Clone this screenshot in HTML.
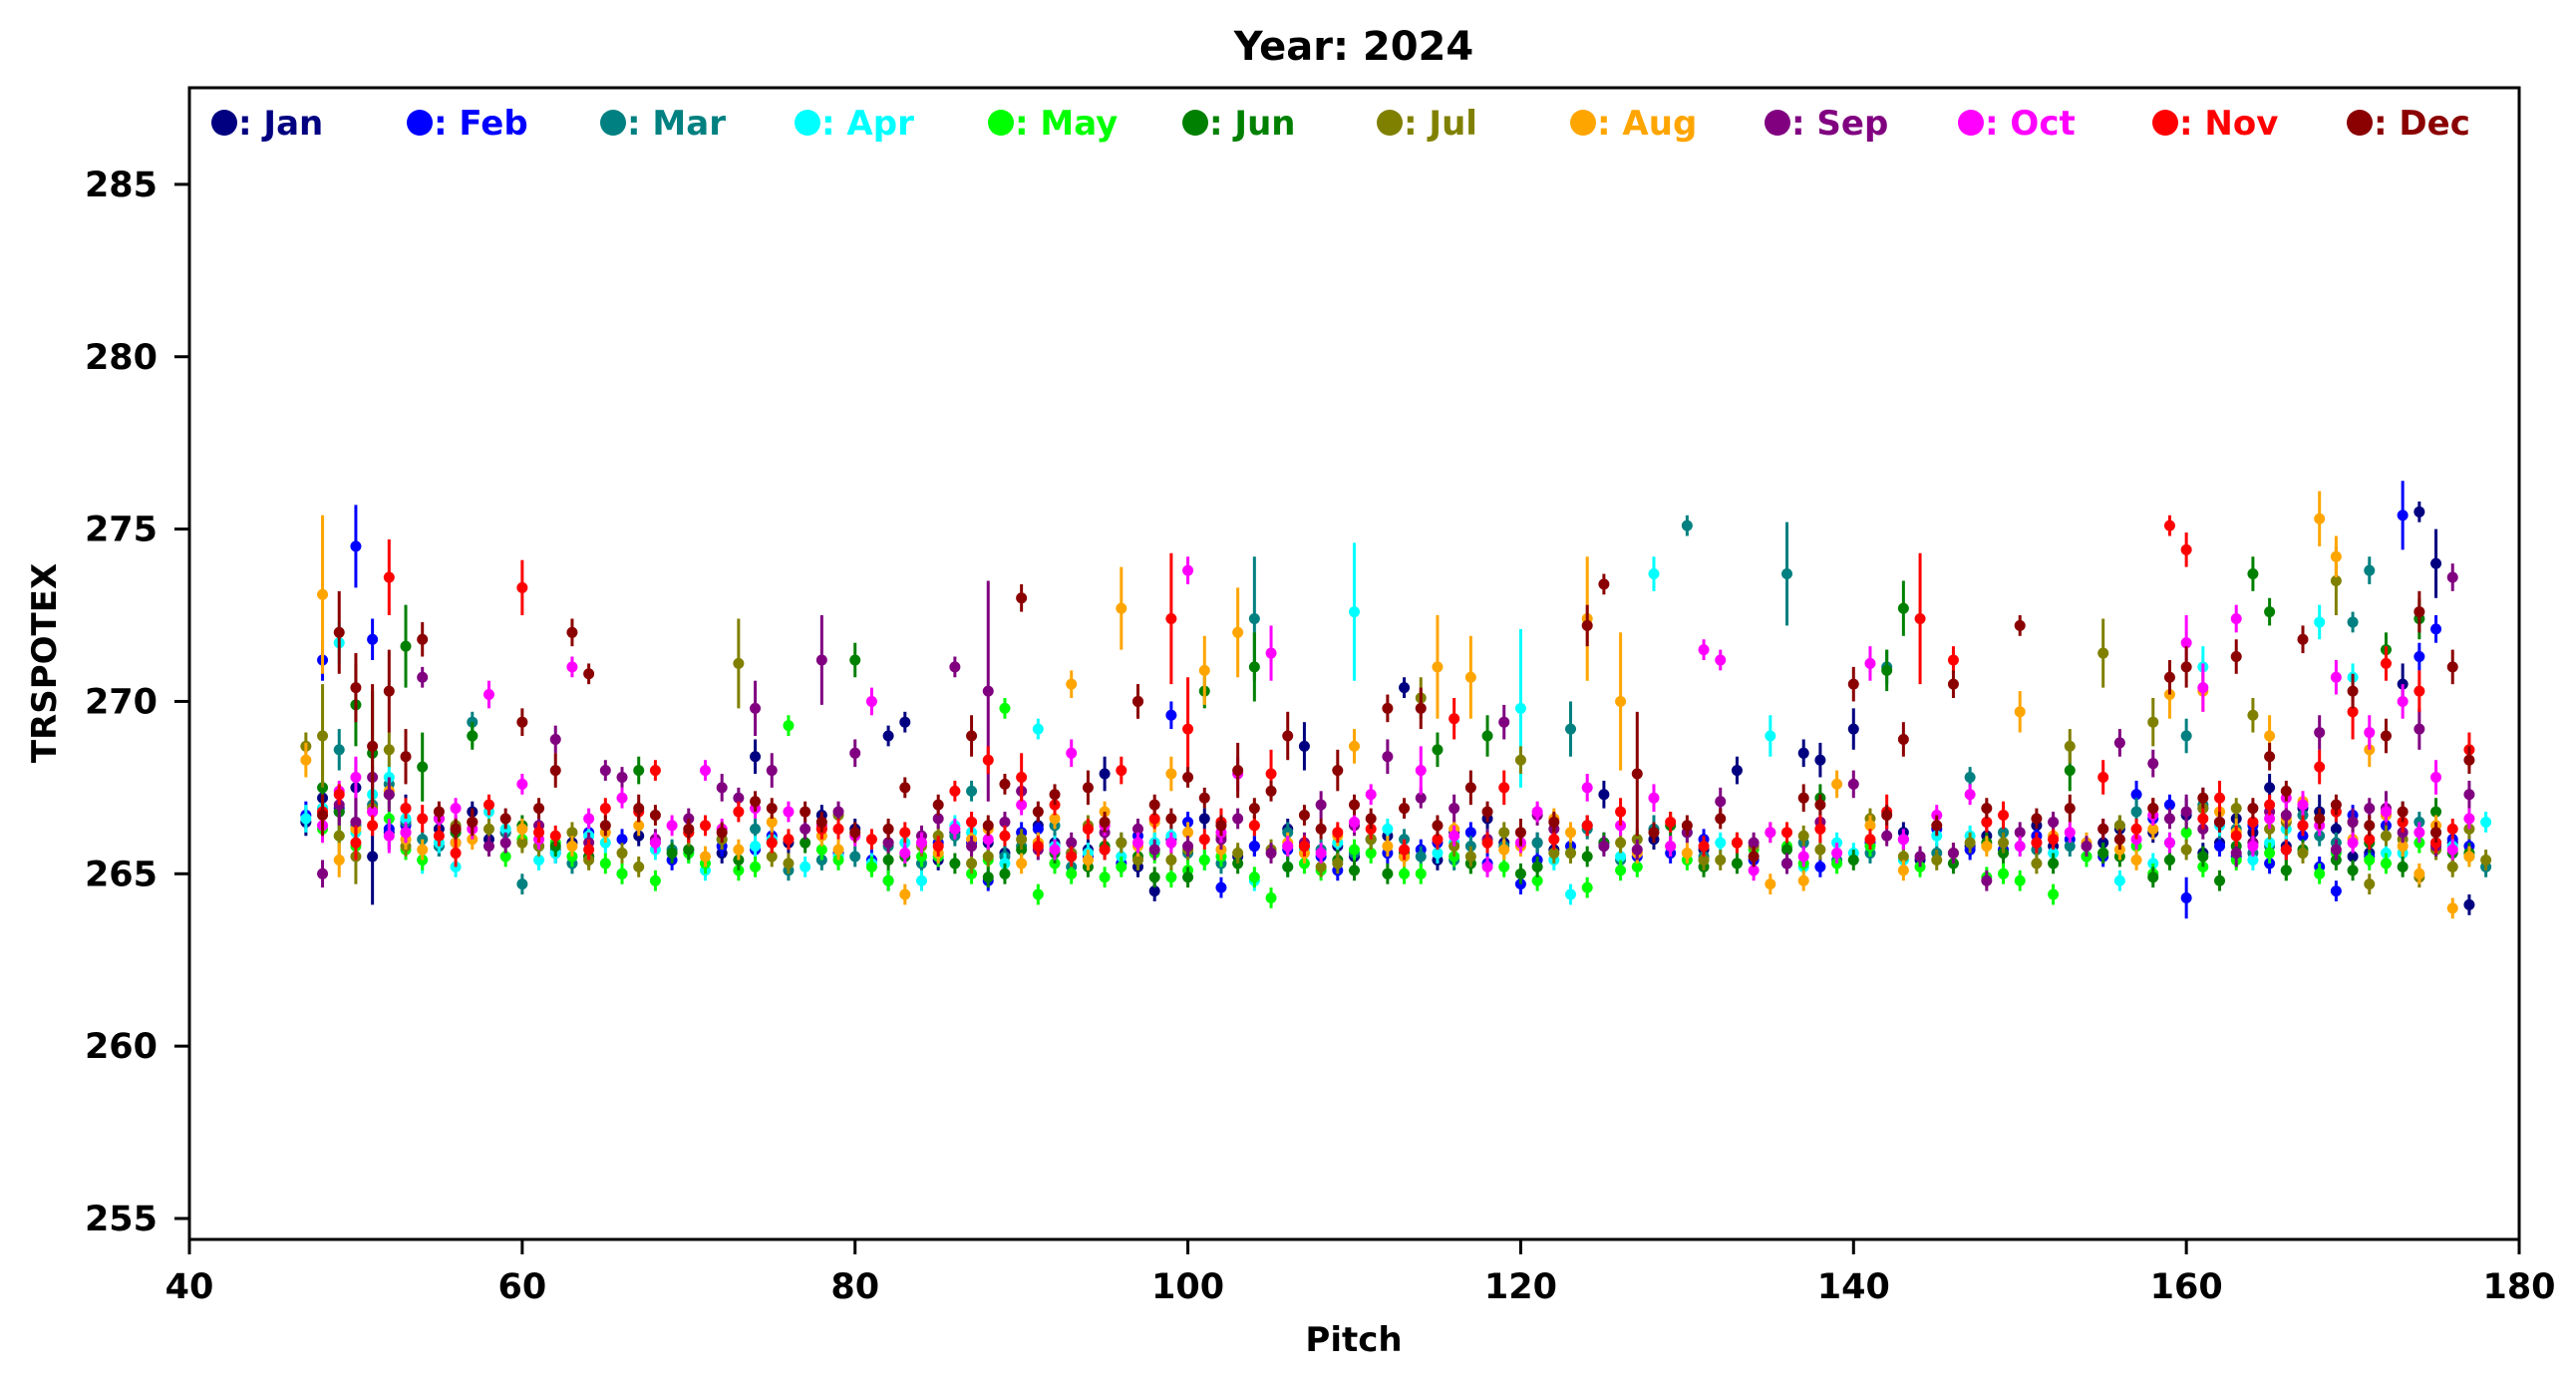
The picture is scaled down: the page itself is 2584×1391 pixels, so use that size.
<!DOCTYPE html>
<html><head><meta charset="utf-8"><style>
body{margin:0;background:#fff}
svg{display:block;font-family:"DejaVu Sans","Liberation Sans",sans-serif;font-weight:bold}
</style></head><body>
<svg id="chart" width="2584" height="1391" viewBox="0 0 2584 1391" xmlns="http://www.w3.org/2000/svg">
<rect width="2584" height="1391" fill="#fff"/>
<text x="1358" y="60" font-size="40" text-anchor="middle">Year: 2024</text>
<g id="marks"></g>
<rect x="190" y="88" width="2337" height="1155" fill="none" stroke="#000" stroke-width="3"/>
<g id="axes"></g>
<g id="legend"></g>
<text x="1358" y="1355" font-size="34" text-anchor="middle">Pitch</text>
<text x="0" y="0" font-size="34" text-anchor="middle" transform="translate(56,665) rotate(-90)">TRSPOTEX</text>
</svg>
<script>
const monthNames=["Jan","Feb","Mar","Apr","May","Jun","Jul","Aug","Sep","Oct","Nov","Dec"];
const monthColors=["#000080","#0000ff","#008080","#00ffff","#00ff00","#008000","#808000","#ffa500","#800080","#ff00ff","#ff0000","#8b0000"];
const xTicks=[40,60,80,100,120,140,160,180];
const yTicks=[255,260,265,270,275,280,285];
const janP=[47,48,49,50,51,52,53,55,58,61,64,67,70,74,76,78,82,83,86,89,92,95,98,101,104,107,110,113,116,119,122,125,128,133,137,138,140,144,148,152,156,160,162,165,168,171,173,174,175,177];
const janV=[266.5,267.2,266.8,267.5,265.5,266.2,266.9,266.3,266.0,265.8,265.5,266.1,265.7,268.4,265.9,266.7,269.0,269.4,266.2,265.6,265.9,267.9,264.5,266.6,265.8,268.7,265.5,270.4,266.2,265.9,265.7,267.3,266.0,268.0,268.5,268.3,269.2,265.4,266.1,265.8,266.3,266.7,265.9,267.5,266.8,265.6,270.5,275.5,274.0,264.1];
const janE=[0.4,0.5,0.6,0.8,1.4,0.5,0.4,0.3,0.3,0.3,0.3,0.3,0.3,0.5,0.3,0.3,0.3,0.3,0.3,0.3,0.3,0.5,0.3,0.3,0.3,0.7,0.3,0.3,0.3,0.3,0.3,0.4,0.3,0.4,0.4,0.5,0.6,0.3,0.3,0.3,0.3,0.5,0.3,0.4,0.5,0.3,0.6,0.3,1.0,0.3];
const janXP=[57,63,72,80,85,88,91,94,97,99,103,106,109,112,115,118,121,124,131,136,143,147,151,155,158,161,163,164,166,167,169,170,172,176];
const janXV=[266.8,265.9,265.6,266.3,265.4,265.9,266.4,265.7,265.2,266.0,265.5,266.3,265.8,266.1,265.4,266.6,265.9,266.4,265.7,265.3,266.2,265.8,266.4,265.9,266.2,265.6,266.6,266.2,265.8,266.9,266.3,265.5,266.7,265.9];
const febP=[47,48,50,51,53,56,59,62,66,69,72,75,79,82,85,88,91,94,97,99,102,106,109,112,115,118,120,123,127,131,134,138,141,145,149,153,157,160,161,163,166,169,172,173,174,175,176];
const febV=[266.7,271.2,274.5,271.8,266.4,265.9,266.2,265.6,266.0,265.4,265.8,266.1,265.6,264.8,265.9,264.8,266.3,265.5,266.1,269.6,264.6,265.7,265.1,265.6,265.9,265.3,264.7,265.8,265.5,266.0,265.4,265.2,265.9,266.3,265.7,266.0,267.3,264.3,266.9,265.5,265.7,264.5,266.4,275.4,271.3,272.1,266.0];
const febE=[0.4,0.6,1.2,0.6,0.3,0.3,0.3,0.3,0.3,0.3,0.3,0.3,0.3,0.3,0.3,0.3,0.3,0.3,0.3,0.4,0.3,0.3,0.3,0.3,0.3,0.3,0.3,0.3,0.3,0.3,0.3,0.3,0.3,0.3,0.3,0.3,0.4,0.6,0.6,0.3,0.3,0.3,0.4,1.0,0.4,0.4,0.3];
const febXP=[49,52,55,64,74,81,87,90,93,96,100,104,108,111,114,117,121,125,129,136,143,147,151,155,158,159,162,164,165,167,168,170,171,177];
const febXV=[266.9,266.3,265.8,266.2,265.7,265.4,265.9,266.2,265.6,265.3,266.5,265.8,265.5,266.0,265.7,266.2,265.4,265.9,265.6,265.3,266.0,265.7,266.1,265.5,266.6,267.0,265.8,266.4,265.3,266.1,265.2,266.7,265.5,265.8];
const marP=[48,49,51,53,55,57,60,63,66,69,72,76,80,84,87,90,93,96,100,104,108,111,114,117,121,123,126,128,130,133,136,139,142,145,147,151,154,157,160,162,165,168,170,171,173,175,178];
const marV=[266.9,268.6,267.0,266.5,265.8,269.4,264.7,265.3,265.0,265.7,266.0,265.1,265.5,265.3,267.4,265.8,265.2,265.9,265.6,272.4,265.7,266.0,265.5,265.8,265.9,269.2,265.4,266.3,275.1,265.9,273.7,265.4,271.0,265.6,267.8,265.7,265.5,266.8,269.0,266.5,265.8,266.1,272.3,273.8,266.5,265.9,265.2];
const marE=[0.5,0.6,0.5,0.4,0.3,0.3,0.3,0.3,0.3,0.3,0.3,0.3,0.3,0.3,0.3,0.3,0.3,0.3,0.3,1.8,0.3,0.3,0.3,0.3,0.3,0.8,0.3,0.4,0.3,0.3,1.5,0.3,0.5,0.3,0.3,0.3,0.3,0.4,0.5,0.5,0.3,0.3,0.3,0.4,0.6,0.3,0.3];
const marXP=[50,52,54,59,62,68,74,78,82,86,89,92,95,98,102,106,110,113,116,119,124,131,137,141,149,153,156,159,161,163,164,167,169,174];
const marXV=[266.4,267.6,266.0,266.2,265.7,265.9,266.3,265.4,265.8,266.1,265.5,266.4,265.7,265.9,265.3,266.2,265.6,266.0,265.4,265.8,266.3,265.5,265.9,265.6,266.2,265.8,266.4,265.9,267.0,266.3,265.6,266.7,265.9,266.5];
const aprP=[47,49,50,52,54,56,59,62,65,68,71,74,77,81,84,87,91,94,98,101,104,107,110,113,116,120,123,126,128,132,135,137,140,143,147,150,154,156,159,161,164,166,168,170,173,176,178];
const aprV=[266.6,271.7,266.2,267.8,265.4,265.2,266.3,265.6,265.9,265.7,265.1,265.8,265.2,265.3,264.8,266.2,269.2,265.6,265.9,265.4,264.8,265.7,272.6,265.6,265.9,269.8,264.4,265.5,273.7,265.9,269.0,265.2,265.6,265.4,266.1,265.8,265.5,264.8,265.9,271.0,265.4,266.3,272.3,270.7,265.6,265.8,266.5];
const aprE=[0.4,0.6,0.5,0.4,0.4,0.3,0.3,0.3,0.3,0.3,0.3,0.3,0.3,0.3,0.3,0.3,0.3,0.3,0.3,0.3,0.3,0.3,2.0,0.3,0.3,2.3,0.3,0.3,0.5,0.3,0.6,0.3,0.3,0.3,0.3,0.3,0.3,0.3,0.3,0.6,0.3,0.4,0.5,0.4,0.4,0.3,0.3];
const aprXP=[48,51,53,55,58,61,64,70,75,79,83,86,89,92,96,99,102,106,109,112,115,118,122,125,130,134,139,145,152,158,162,165,169,172,175];
const aprXV=[266.9,267.3,266.6,265.9,266.8,265.4,266.1,265.6,266.0,265.5,265.9,266.4,265.3,265.8,265.5,266.1,265.7,265.2,265.9,266.3,265.6,266.0,265.4,265.8,266.2,265.5,265.9,266.1,265.6,265.3,266.4,265.9,266.8,265.6,266.2];
const mayP=[48,50,52,54,57,60,63,66,68,71,74,76,79,82,85,89,91,93,96,99,102,105,108,111,114,117,121,124,127,131,134,137,141,144,148,150,152,155,158,160,163,166,169,172,174,177];
const mayV=[266.3,265.8,266.6,265.4,269.0,266.0,265.5,265.0,264.8,265.3,265.2,269.3,265.4,264.8,265.5,269.8,264.4,265.0,265.2,264.9,265.5,264.3,265.1,265.6,265.0,265.3,264.8,264.6,265.2,265.4,265.7,265.3,265.8,265.2,264.9,264.8,264.4,265.6,265.0,266.2,265.4,265.1,265.6,265.3,265.9,265.5];
const mayE=[0.4,0.4,0.4,0.3,0.3,0.3,0.3,0.3,0.3,0.3,0.3,0.3,0.3,0.3,0.3,0.3,0.3,0.3,0.3,0.3,0.3,0.3,0.3,0.3,0.3,0.3,0.3,0.3,0.3,0.3,0.3,0.3,0.3,0.3,0.3,0.3,0.3,0.3,0.3,0.3,0.3,0.3,0.3,0.3,0.3,0.3];
const mayXP=[49,53,56,59,62,65,70,73,78,81,84,87,88,92,95,98,100,101,104,107,110,113,116,119,123,126,130,136,139,146,149,154,157,161,165,168,171,175];
const mayXV=[266.1,265.7,266.2,265.5,265.9,265.3,265.6,265.1,265.7,265.2,265.5,265.0,265.4,265.3,264.9,265.6,265.1,265.4,264.9,265.3,265.7,265.0,265.5,265.2,265.6,265.1,265.4,265.8,265.3,265.6,265.0,265.5,265.8,265.2,265.6,265.0,265.4,265.7];
const junP=[48,50,51,53,54,57,60,64,67,70,73,77,80,83,86,89,92,95,98,101,104,106,109,112,115,118,121,125,129,133,138,142,143,146,149,153,156,159,162,164,165,167,170,172,174,175,177];
const junV=[267.5,269.9,268.5,271.6,268.1,269.0,266.4,265.5,268.0,265.7,265.4,265.9,271.2,265.5,265.3,265.0,265.6,265.8,264.9,270.3,271.0,265.2,265.4,265.0,268.6,269.0,265.2,265.9,266.4,265.3,267.2,270.9,272.7,265.3,265.6,268.0,265.5,265.4,264.8,273.7,272.6,265.7,265.1,271.5,272.4,266.8,265.6];
const junE=[0.8,1.2,1.8,1.2,1.0,0.4,0.3,0.3,0.4,0.3,0.3,0.3,0.5,0.3,0.3,0.3,0.3,0.3,0.3,0.5,1.0,0.3,0.3,0.3,0.5,0.6,0.3,0.3,0.4,0.3,0.4,0.6,0.8,0.3,0.3,0.6,0.3,0.3,0.3,0.5,0.4,0.3,0.3,0.5,0.6,0.4,0.3];
const junXP=[49,52,56,62,69,75,82,88,90,94,97,100,103,107,110,113,117,120,124,131,136,140,148,152,155,158,161,163,166,169,171,173,176];
const junXV=[266.8,267.3,266.2,265.8,265.6,265.9,265.4,264.9,265.7,265.2,265.5,264.9,265.3,265.8,265.1,265.6,265.3,265.0,265.5,265.2,265.7,265.4,265.9,265.3,265.6,264.9,265.5,265.8,265.1,265.4,265.9,265.2,265.6];
const julP=[47,48,49,50,52,55,58,61,64,67,70,73,76,79,82,85,88,91,94,97,100,103,106,109,114,117,120,122,126,129,132,135,138,141,145,149,153,155,158,161,164,166,169,171,173,176,178];
const julV=[268.7,269.0,266.1,265.5,268.6,266.6,266.3,265.8,265.4,265.2,266.2,271.1,265.3,266.7,265.9,266.1,265.5,265.9,266.4,265.4,265.7,265.6,265.8,265.3,270.1,265.5,268.3,265.6,265.9,265.8,265.4,266.2,265.7,266.6,265.4,265.9,268.7,271.4,269.4,266.9,269.6,266.5,273.5,264.7,266.0,265.2,265.4];
const julE=[0.4,1.5,0.6,0.8,0.5,0.3,0.3,0.3,0.3,0.3,0.4,1.3,0.3,0.3,0.3,0.3,0.3,0.3,0.3,0.3,0.3,0.3,0.3,0.3,0.6,0.3,0.4,0.3,0.3,0.3,0.3,0.3,0.3,0.3,0.3,0.3,0.5,1.0,0.7,0.4,0.5,0.4,1.0,0.3,0.5,0.3,0.3];
const julXP=[51,53,56,60,63,66,72,75,78,84,87,90,93,96,99,102,105,108,111,113,116,119,123,127,131,134,137,143,147,151,156,160,163,165,167,170,172,174,175,177];
const julXV=[266.9,265.8,266.4,265.9,266.2,265.6,266.0,265.5,266.3,265.8,265.3,266.0,265.6,265.9,265.4,266.1,265.7,265.2,266.0,265.5,265.8,266.2,265.6,266.0,265.4,265.8,266.1,265.5,265.9,265.3,266.4,265.7,266.9,266.3,265.6,266.5,266.1,264.9,265.7,266.3];
const augP=[47,48,49,51,54,57,60,63,67,71,75,79,83,87,90,93,96,99,101,103,107,110,113,115,117,120,122,124,126,130,135,137,139,143,146,150,154,157,159,161,163,165,168,169,171,174,176];
const augV=[268.3,273.1,265.4,266.8,265.7,266.0,266.3,265.8,266.4,265.5,266.5,265.7,264.4,266.0,265.3,270.5,272.7,267.9,270.9,272.0,265.6,268.7,265.5,271.0,270.7,265.8,266.6,272.4,270.0,265.6,264.7,264.8,267.6,265.1,265.6,269.7,265.9,265.4,270.2,270.3,266.2,269.0,275.3,274.2,268.6,265.0,264.0];
const augE=[0.5,2.3,0.5,0.5,0.3,0.3,0.3,0.3,0.3,0.3,0.3,0.3,0.3,0.4,0.3,0.4,1.2,0.5,1.0,1.3,0.3,0.5,0.3,1.5,1.2,0.3,0.3,1.8,2.0,0.3,0.3,0.3,0.4,0.3,0.3,0.6,0.3,0.3,0.7,0.6,0.4,0.6,0.8,0.6,0.5,0.3,0.3];
const augXP=[50,52,53,56,65,73,78,85,88,91,92,94,95,97,98,100,102,104,106,109,112,116,119,123,127,133,141,148,152,156,158,162,164,166,167,170,172,173,175,177];
const augXV=[266.3,267.4,266.0,265.9,266.2,265.7,266.1,265.6,266.3,265.9,266.6,265.4,266.8,265.8,266.5,266.2,265.7,266.4,265.9,266.1,265.8,266.3,265.7,266.2,265.6,265.9,266.4,265.8,266.1,265.7,266.3,266.8,265.9,266.6,267.1,266.0,266.7,265.8,266.4,265.5];
const sepP=[48,49,50,52,54,56,59,62,65,68,72,74,75,78,80,84,86,88,91,95,98,102,105,108,112,116,119,122,127,132,136,140,144,148,152,156,158,160,163,166,168,170,172,174,176,177];
const sepV=[265.0,267.0,266.5,267.3,270.7,266.3,265.9,268.9,268.0,266.0,267.5,269.8,268.0,271.2,268.5,266.1,271.0,270.3,265.7,266.2,265.7,266.0,265.6,267.0,268.4,266.9,269.4,266.3,265.7,267.1,265.3,267.6,265.5,264.8,266.5,268.8,268.2,266.8,265.6,266.7,269.1,266.5,266.9,269.2,273.6,267.3];
const sepE=[0.4,0.6,0.8,0.5,0.3,0.4,0.3,0.4,0.3,0.3,0.4,0.8,0.5,1.3,0.4,0.3,0.3,3.2,0.3,0.3,0.3,0.3,0.3,0.4,0.5,0.4,0.5,0.3,0.3,0.4,0.3,0.4,0.3,0.3,0.3,0.4,0.4,0.5,0.4,0.4,0.5,0.4,0.5,0.6,0.4,0.4];
const sepXP=[51,53,55,58,61,64,66,70,73,77,79,82,85,87,89,90,93,97,100,103,107,110,114,118,121,125,130,134,138,142,146,150,154,159,161,164,165,167,169,171,173,175];
const sepXV=[267.8,266.2,266.6,265.8,266.4,265.9,267.8,266.6,267.2,266.3,266.8,265.9,266.6,265.8,266.5,267.4,265.9,266.3,265.8,266.6,265.9,266.4,267.2,266.0,266.7,265.8,266.2,265.9,266.5,266.1,265.6,266.2,265.8,266.6,266.3,265.9,266.8,266.4,265.7,266.9,266.2,265.8];
const octP=[48,50,52,55,58,60,63,66,69,71,74,78,81,84,87,90,93,97,100,103,105,108,111,114,118,121,124,128,131,132,134,137,141,145,147,150,153,157,160,161,163,165,167,169,171,173,175,177];
const octV=[266.4,267.8,266.1,266.6,270.2,267.6,271.0,267.2,266.4,268.0,266.9,266.4,270.0,265.9,266.5,267.0,268.5,265.9,273.8,267.9,271.4,265.6,267.3,268.0,265.2,266.8,267.5,267.2,271.5,271.2,265.1,265.5,271.1,266.7,267.3,265.8,266.2,266.0,271.7,270.4,272.4,266.6,267.0,270.7,269.1,270.0,267.8,266.6];
const octE=[0.5,0.6,0.5,0.4,0.4,0.3,0.3,0.3,0.3,0.3,0.3,0.3,0.4,0.3,0.3,0.3,0.4,0.3,0.4,0.5,0.8,0.3,0.3,0.7,0.3,0.3,0.4,0.4,0.3,0.3,0.3,0.3,0.5,0.3,0.3,0.3,0.3,0.3,0.8,0.7,0.4,0.3,0.4,0.5,0.5,0.5,0.5,0.3];
const octXP=[49,51,53,56,57,61,64,68,72,76,80,83,86,88,92,95,99,102,106,110,113,116,120,126,129,135,139,143,151,155,158,159,162,164,166,168,170,172,174,176];
const octXV=[267.4,266.8,266.2,266.9,266.3,266.0,266.6,265.9,266.3,266.8,266.1,265.6,266.3,266.0,265.7,266.4,265.9,266.2,265.8,266.5,265.7,266.1,265.9,266.4,265.8,266.2,265.6,266.0,265.9,266.3,266.7,265.9,266.5,265.8,267.2,266.4,265.9,266.8,266.2,265.7];
const novP=[48,50,52,54,56,58,60,62,65,68,70,73,76,79,83,86,88,90,93,96,97,99,100,102,105,109,113,116,119,122,126,129,133,138,142,144,146,149,152,155,159,160,162,164,166,168,170,172,174,177];
const novV=[266.8,265.9,273.6,266.6,265.6,267.0,273.3,266.1,266.9,268.0,266.2,266.8,266.0,266.3,266.2,267.4,268.3,267.8,265.5,268.0,270.0,272.4,269.2,266.5,267.9,266.2,265.7,269.5,267.5,266.0,266.8,266.5,265.9,266.3,266.8,272.4,271.2,266.7,266.0,267.8,275.1,274.4,267.2,266.5,265.7,268.1,269.7,271.1,270.3,268.6];
const novE=[0.5,0.5,1.1,0.4,0.4,0.3,0.8,0.3,0.3,0.3,0.3,0.3,0.3,0.3,0.3,0.3,0.4,0.7,0.3,0.4,0.5,1.9,1.5,0.4,0.7,0.3,0.3,0.6,0.5,0.3,0.4,0.3,0.3,0.4,0.5,1.9,0.4,0.4,0.3,0.5,0.3,0.5,0.5,0.4,0.3,0.5,0.8,0.5,0.6,0.5];
const novXP=[49,51,53,55,57,61,64,67,71,75,78,81,85,87,89,91,92,94,95,98,101,104,107,111,115,118,124,131,136,141,148,151,157,158,161,163,165,167,169,171,173,175,176];
const novXV=[267.3,266.4,266.9,266.1,266.5,266.2,265.7,266.8,266.4,265.9,266.3,266.0,265.8,266.5,266.1,265.8,267.0,266.3,265.7,266.6,266.0,266.4,265.8,266.3,266.0,265.9,266.4,265.8,266.2,266.0,266.5,265.9,266.3,266.9,266.6,266.1,267.0,266.4,266.8,266.0,266.5,265.9,266.3];
const decP=[48,49,50,51,52,53,54,57,60,62,63,64,67,70,74,77,80,83,87,90,94,97,100,103,106,109,112,114,117,120,124,125,127,130,134,137,140,143,146,150,153,156,159,160,163,165,167,170,172,174,176,177];
const decV=[266.7,272.0,270.4,268.7,270.3,268.4,271.8,266.5,269.4,268.0,272.0,270.8,266.9,266.3,267.1,266.8,266.2,267.5,269.0,273.0,267.5,270.0,267.8,268.0,269.0,268.0,269.8,269.8,267.5,266.2,272.2,273.4,267.9,266.4,265.5,267.2,270.5,268.9,270.5,272.2,266.9,266.0,270.7,271.0,271.3,268.4,271.8,270.3,269.0,272.6,271.0,268.3];
const decE=[0.6,1.2,1.0,1.8,1.2,0.8,0.5,0.4,0.4,0.5,0.4,0.3,0.4,0.3,0.3,0.3,0.3,0.3,0.6,0.4,0.5,0.5,0.3,0.8,0.7,0.6,0.4,0.6,0.5,0.4,0.6,0.3,1.8,0.3,0.3,0.4,0.5,0.5,0.4,0.3,0.4,0.3,0.5,0.6,0.5,0.4,0.4,0.5,0.5,0.6,0.5,0.4];
const decXP=[55,56,59,61,65,68,72,75,78,82,85,88,89,91,92,95,98,99,101,102,104,105,107,108,110,111,113,115,118,122,128,132,138,142,145,148,151,155,158,161,162,164,166,168,169,171,173,175];
const decXV=[266.8,266.3,266.6,266.9,266.4,266.7,266.2,266.9,266.5,266.3,267.0,266.4,267.6,266.8,267.3,266.5,267.0,266.6,267.2,266.4,266.9,267.4,266.7,266.3,267.0,266.6,266.9,266.4,266.8,266.5,266.2,266.6,267.0,266.7,266.4,266.9,266.6,266.3,266.9,267.2,266.5,266.9,267.4,266.6,267.0,266.4,266.8,266.2];

const seriesP=[janP.concat(janXP),febP.concat(febXP),marP.concat(marXP),aprP.concat(aprXP),mayP.concat(mayXP),junP.concat(junXP),julP.concat(julXP),augP.concat(augXP),sepP.concat(sepXP),octP.concat(octXP),novP.concat(novXP),decP.concat(decXP)];
const seriesV=[janV.concat(janXV),febV.concat(febXV),marV.concat(marXV),aprV.concat(aprXV),mayV.concat(mayXV),junV.concat(junXV),julV.concat(julXV),augV.concat(augXV),sepV.concat(sepXV),octV.concat(octXV),novV.concat(novXV),decV.concat(decXV)];
const seriesE=[janE,febE,marE,aprE,mayE,junE,julE,augE,sepE,octE,novE,decE];

const NS="http://www.w3.org/2000/svg";
const L=190,R=2527,T=88,B=1243;
const xMin=40,xMax=180;
function sx(v){return L+(v-xMin)/(xMax-xMin)*(R-L);}
function sy(v){return 1222-(v-255)*34.57;}
function mk(tag,attrs,parent){const e=document.createElementNS(NS,tag);for(const k in attrs)e.setAttribute(k,attrs[k]);parent.appendChild(e);return e;}

const marks=document.getElementById('marks');
for(let m=0;m<12;m++){
  const g=mk('g',{},marks);
  
  
  const P=seriesP[m],V=seriesV[m],E=seriesE[m];
  for(let i=0;i<P.length;i++){
    const x=sx(P[i]);
    const err=(i<E.length)?E[i]:0.3;
    const ln=mk('line',{x1:x,x2:x,y1:sy(V[i]-err),y2:sy(V[i]+err),stroke:monthColors[m],'stroke-width':3},g);
    
    
    const c=mk('circle',{cx:x,cy:sy(V[i]),r:5.5,fill:monthColors[m]},g);
    
    
  }
}

const axes=document.getElementById('axes');
xTicks.forEach(t=>{
  const x=sx(t);
  const tk=mk('line',{x1:x,x2:x,y1:B,y2:B+15,stroke:'#000','stroke-width':3},axes);
  
  
  const tx=mk('text',{x:x,y:1302,'font-size':35,'text-anchor':'middle'},axes);
  tx.textContent=t;
  
  
});
yTicks.forEach(t=>{
  const y=sy(t);
  const tk=mk('line',{x1:L-15,x2:L,y1:y,y2:y,stroke:'#000','stroke-width':3},axes);
  
  
  const tx=mk('text',{x:158,y:y+12,'font-size':35,'text-anchor':'end'},axes);
  tx.textContent=t;
  
  
});

const legend=document.getElementById('legend');
const legX=[225,421,615,810,1004,1199,1394,1588,1783,1977,2172,2367];
for(let m=0;m<12;m++){
  const g=mk('g',{},legend);
  
  
  mk('circle',{cx:legX[m],cy:123,r:13,fill:monthColors[m]},g);
  const tx=mk('text',{x:legX[m]+14,y:135,'font-size':34,fill:monthColors[m]},g);
  tx.textContent=': '+monthNames[m];
}
</script>
</body></html>
